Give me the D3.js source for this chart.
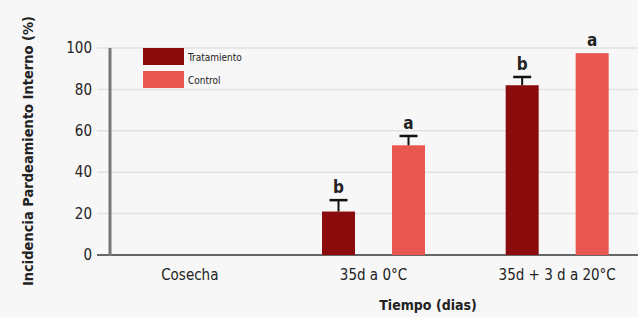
<!DOCTYPE html>
<html>
<head>
<meta charset="utf-8">
<script src="https://cdn.jsdelivr.net/npm/d3@7"></script>
<style>
  body { margin: 0; background: #f7f7f7; }
  svg { display: block; }
  text { font-family: "Liberation Sans Narrow", "DejaVu Sans Condensed", sans-serif; fill: #222; }
</style>
</head>
<body>
<svg width="638" height="317"></svg>
<script>
// chart data
const categories = ['Cosecha', '35d a 0°C', '35d + 3 d a 20°C'];
const seriesNames = ['Tratamiento', 'Control'];
const tratamiento = [0, 21, 82];
const control = [0, 53, 97.5];
const tratamientoErr = [0, 5.5, 4];
const controlErr = [0, 4.5, 0];
const tratamientoLetters = ['', 'b', 'b'];
const controlLetters = ['', 'a', 'a'];
const yTicks = [0, 20, 40, 60, 80, 100];

const colors = ['#8a0c0c', '#e85650'];

const svg = d3.select('svg');
const W = 638, H = 317;

var x = d3.scaleBand().domain(categories).range([98, 649]);
var y = d3.scaleLinear().domain([0, 100]).range([255, 48]);

// gridlines
svg.append('g').selectAll('line')
  .data(yTicks)
  .enter().append('line')
  .attr('x1', 97).attr('x2', W)
  .attr('y1', d => y(d)).attr('y2', d => y(d))
  .attr('stroke', d => d === 0 ? '#666' : '#e2e2e2')
  .attr('stroke-width', d => d === 0 ? 2 : 1.5);

// y tick labels
svg.append('g').selectAll('text')
  .data(yTicks)
  .enter().append('text')
  .attr('x', 92)
  .attr('y', d => y(d))
  .attr('dy', '0.35em')
  .attr('text-anchor', 'end')
  .style('font-size', '15px')
  .text(d => d);

// y axis line
svg.append('line')
  .attr('x1', 110).attr('x2', 110)
  .attr('y1', 48).attr('y2', 256)
  .attr('stroke', '#777').attr('stroke-width', 3);

// bars
const rows = categories.map((c, i) => ({
  cat: c,
  vals: [
    { s: 0, v: tratamiento[i], e: tratamientoErr[i], l: tratamientoLetters[i] },
    { s: 1, v: control[i], e: controlErr[i], l: controlLetters[i] }
  ]
}));

var off = [-35, 35];
var bw = 33;

var bars = svg.append('g').selectAll('g')
  .data(rows)
  .enter().append('g')
  .attr('transform', d => 'translate(' + (x(d.cat) + x.bandwidth() / 2) + ',0)');

var items = bars.selectAll('g')
  .data(d => d.vals.filter(v => v.v > 0))
  .enter().append('g')
  .attr('transform', d => 'translate(' + off[d.s] + ',0)');

items.append('rect')
  .attr('x', -bw / 2)
  .attr('width', bw)
  .attr('y', d => y(d.v))
  .attr('height', d => y(0) - y(d.v))
  .attr('fill', d => colors[d.s]);

// error bars
var eb = items.filter(d => d.e > 0);
eb.append('line')
  .attr('x1', 0).attr('x2', 0)
  .attr('y1', d => y(d.v)).attr('y2', d => y(d.v + d.e))
  .attr('stroke', '#111').attr('stroke-width', 2);
eb.append('line')
  .attr('x1', -9).attr('x2', 9)
  .attr('y1', d => y(d.v + d.e)).attr('y2', d => y(d.v + d.e))
  .attr('stroke', '#111').attr('stroke-width', 2.5);

// significance letters
items.append('text')
  .attr('x', 0)
  .attr('y', d => y(d.v + d.e) - 7)
  .attr('text-anchor', 'middle')
  .style('font-size', '17px')
  .style('font-weight', 'bold')
  .text(d => d.l);

// x labels
svg.append('g').selectAll('text')
  .data(categories)
  .enter().append('text')
  .attr('x', d => x(d) + x.bandwidth() / 2)
  .attr('y', 280)
  .attr('text-anchor', 'middle')
  .style('font-size', '15px')
  .text(d => d);

// axis titles
svg.append('text')
  .attr('x', 428).attr('y', 310)
  .attr('text-anchor', 'middle')
  .style('font-size', '14px')
  .style('font-weight', 'bold')
  .text('Tiempo (dias)');

svg.append('text')
  .attr('transform', 'translate(33,151) rotate(-90)')
  .attr('text-anchor', 'middle')
  .style('font-size', '14.5px')
  .style('font-weight', 'bold')
  .text('Incidencia Pardeamiento Interno (%)');

// legend
var leg = svg.append('g').selectAll('g')
  .data(seriesNames)
  .enter().append('g')
  .attr('transform', (d, i) => 'translate(143,' + (48 + i * 23) + ')');
leg.append('rect')
  .attr('width', 41).attr('height', 17)
  .attr('fill', (d, i) => colors[i]);
leg.append('text')
  .attr('x', 45).attr('y', 13)
  .style('font-size', '10px')
  .text(d => d);
</script>
</body>
</html>
